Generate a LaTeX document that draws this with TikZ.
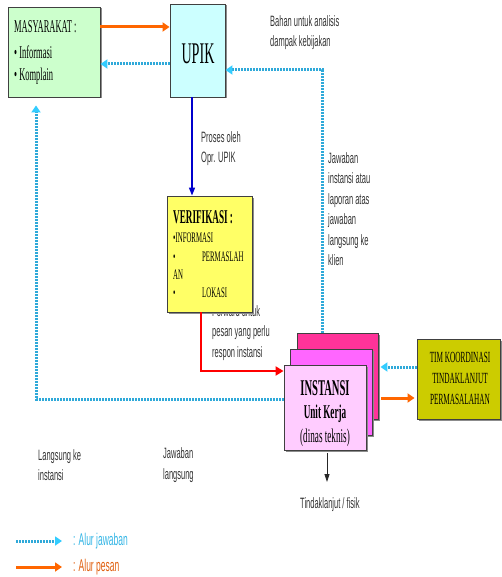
\documentclass[tikz,border=0pt]{standalone}
\usepackage{fontspec}
\setmainfont{Liberation Serif}[FakeStretch=0.47]
\newfontfamily\lsans{Liberation Sans}[FakeStretch=0.5]
\usetikzlibrary{arrows.meta,shadows}
\definecolor{masyfill}{HTML}{CCFFCC}
\definecolor{upikfill}{HTML}{CCFFFF}
\definecolor{veriffill}{HTML}{FFFF66}
\definecolor{backfill}{HTML}{FF3399}
\definecolor{midfill}{HTML}{FF66FF}
\definecolor{frontfill}{HTML}{FFCCFF}
\definecolor{timfill}{HTML}{CCCC00}
\definecolor{orangeA}{HTML}{FF6600}
\definecolor{cyanA}{HTML}{2FA9D9}
\definecolor{cyanTip}{HTML}{33CCFF}
\definecolor{blueA}{HTML}{0000CC}
\definecolor{labelgray}{HTML}{333333}
\definecolor{legcyan}{HTML}{33B5E5}
\definecolor{legorange}{HTML}{E06010}
\tikzset{
  box/.style={draw=black!75, line width=0.9pt, inner sep=0pt,
    general shadow={fill=black!45, shadow xshift=1.5pt, shadow yshift=-1.5pt}},
  pesan/.style={draw=orangeA, line width=3pt, -{Triangle[length=7pt,width=9pt]}},
  jawab/.style={draw=cyanA, line width=3pt, dash pattern=on 2pt off 1pt,
    -{Triangle[length=7pt,width=9pt,color=cyanTip]}},
  bluearr/.style={draw=blueA, line width=1.5pt, -{Triangle[length=8pt,width=6pt]}},
  redarr/.style={draw=red, line width=2.5pt, -{Triangle[length=8pt,width=9pt]}},
  blackarr/.style={draw=black!85, line width=0.8pt, -{Triangle[length=8pt,width=5pt]}},
  lbl/.style={font=\lsans\fontsize{15}{20.5}\selectfont, text=labelgray, align=left, inner sep=0pt, anchor=west},
  txt/.style={inner sep=0pt, anchor=west},
  ctxt/.style={inner sep=0pt, anchor=center}
}
\begin{document}
\begin{tikzpicture}[x=1pt,y=-1pt]
\useasboundingbox (0,0) rectangle (502,577);

% boxes
\node[box, fill=masyfill, minimum width=92pt, minimum height=90pt] (masy) at (54,52) {};
\node[txt, font=\fontsize{18}{18}\selectfont] (masyT) at (14,27) {MASYARAKAT :};
\node[txt, font=\fontsize{18}{18}\selectfont] (masyA) at (14,52) {• Informasi};
\node[txt, font=\fontsize{18}{18}\selectfont] (masyB) at (14,76) {• Komplain};

\node[box, fill=upikfill, minimum width=55pt, minimum height=93pt] (upik) at (197.5,50.5) {};
\node[ctxt, font=\fontsize{30}{30}\selectfont] (upikT) at (198,54) {UPIK};

% forward text (partly hidden by the verification box)
\node[lbl] (fwd) at (212,333) {Forward untuk\\pesan yang perlu\\respon instansi};

\node[box, fill=veriffill, minimum width=85pt, minimum height=116pt] (verif) at (209.5,254) {};
\node[txt, font=\fontsize{19.5}{19.5}\selectfont\bfseries] (verT) at (173,217) {VERIFIKASI :};
\node[txt, font=\fontsize{14.5}{14.5}\selectfont] (verA) at (173,238) {•INFORMASI};
\node[txt, font=\fontsize{14.5}{14.5}\selectfont] (verB) at (173,257) {\makebox[29pt][l]{•}PERMASLAH};
\node[txt, font=\fontsize{14.5}{14.5}\selectfont] (verC) at (173,275) {AN};
\node[txt, font=\fontsize{14.5}{14.5}\selectfont] (verD) at (173,293) {\makebox[29pt][l]{•}LOKASI};

\node[box, fill=backfill, minimum width=81pt, minimum height=86pt] (back) at (337.5,376) {};
\node[box, fill=midfill, minimum width=82pt, minimum height=86pt] (mid) at (331,392) {};
\node[box, fill=frontfill, minimum width=82pt, minimum height=85pt] (front) at (325,407.5) {};
\node[ctxt, font=\fontsize{22.5}{22.5}\selectfont\bfseries] (insT) at (325,388) {INSTANSI};
\node[ctxt, font=\fontsize{19.5}{19.5}\selectfont\bfseries] (insA) at (325,414) {Unit Kerja};
\node[ctxt, font=\fontsize{19.5}{19.5}\selectfont] (insB) at (325,438) {(dinas teknis)};

\node[box, fill=timfill, minimum width=83pt, minimum height=80pt] (tim) at (458.5,379) {};
\node[ctxt, font=\fontsize{15.5}{21}\selectfont, align=center] (timT) at (460,378) {TIM KOORDINASI\\TINDAKLANJUT\\PERMASALAHAN};

% labels
\node[lbl] (bahan) at (270,32.5) {Bahan untuk analisis\\dampak kebijakan};
\node[lbl] (proses) at (201,148.5) {Proses oleh\\Opr. UPIK};
\node[lbl] (jawinst) at (328,209) {Jawaban\\instansi atau\\laporan atas\\jawaban\\langsung ke\\klien};
\node[lbl] (langke) at (38,465) {Langsung ke\\instansi};
\node[lbl] (jawlang) at (163,465) {Jawaban\\langsung};
\node[lbl] (tindak) at (300,505) {Tindaklanjut / fisik};

% connectors
\draw[pesan] (masy.east |- 0,27) -- (upik.west |- 0,27);
\draw[jawab] (upik.west |- 0,64) -- (masy.east |- 0,64);
\draw[jawab] (back.north -| 322,0) |- (upik.east |- 0,70);
\draw[bluearr] (upik.south -| 192,0) -- (verif.north -| 192,0);
\draw[redarr] (verif.south -| 201,0) |- (front.west |- 0,371);
\draw[jawab, shorten >=8pt] (front.west |- 0,399) -| (masy.south -| 36,0);
\draw[jawab, shorten >=2pt] (tim.west |- 0,367) -- (back.east |- 0,367);
\draw[pesan, shorten <=3pt, shorten >=2pt] (back.east |- 0,398) -- (tim.west |- 0,398);
\coordinate (tl) at (327,482);
\draw[blackarr, shorten <=3pt] (front.south -| 327,0) -- (tl);

% legend
\coordinate (lj1) at (16,541);
\coordinate (lj2) at (62,541);
\coordinate (lp1) at (16,567);
\coordinate (lp2) at (62,567);
\draw[jawab] (lj1) -- (lj2);
\draw[pesan] (lp1) -- (lp2);
\node[lbl, font=\lsans\fontsize{17}{17}\selectfont, text=legcyan] (legj) at (73,541) {: Alur jawaban};
\node[lbl, font=\lsans\fontsize{17}{17}\selectfont, text=legorange] (legp) at (73,567) {: Alur pesan};
\end{tikzpicture}
\end{document}
